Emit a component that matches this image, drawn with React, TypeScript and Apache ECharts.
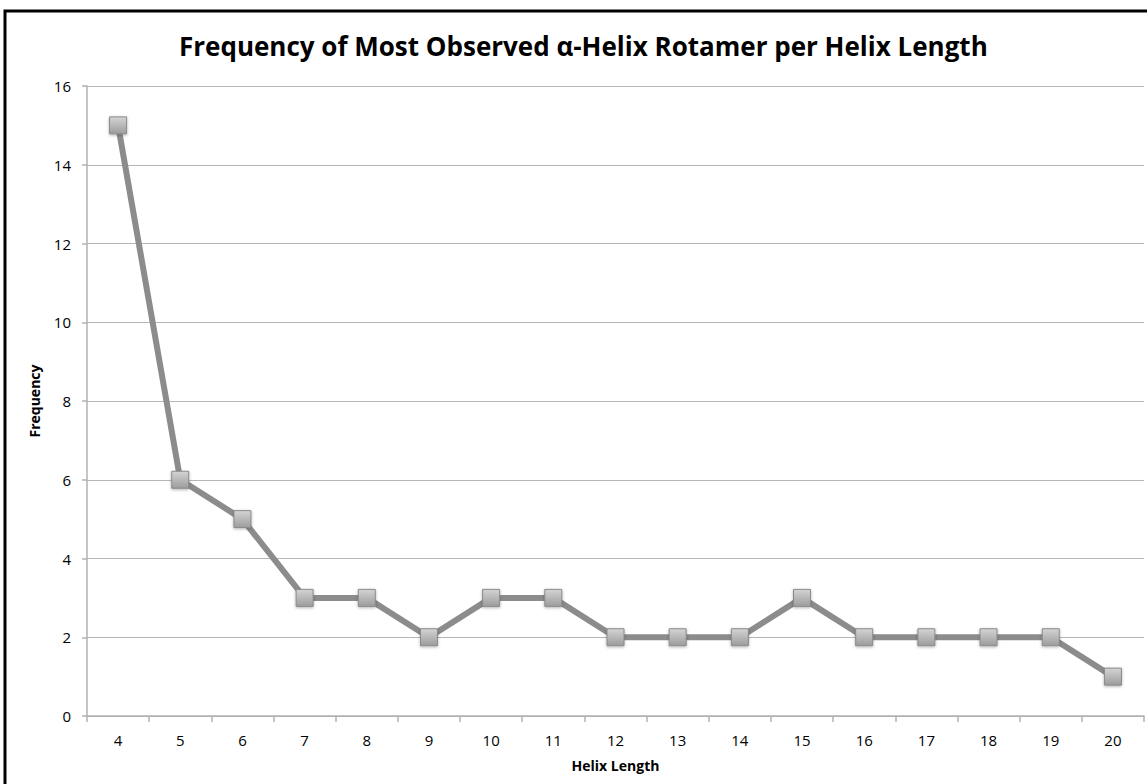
import React, { useEffect, useRef } from "react";
import * as echarts from "echarts";

const helixLengths = ["4", "5", "6", "7", "8", "9", "10", "11", "12", "13", "14", "15", "16", "17", "18", "19", "20"];
const frequencies = [15, 6, 5, 3, 3, 2, 3, 3, 2, 2, 2, 3, 2, 2, 2, 2, 1];

const titleText = "Frequency of Most Observed \u03b1-Helix Rotamer per Helix Length";
const xAxisName = "Helix Length";
const yAxisName = "Frequency";

export default function App() {
  const ref = useRef<HTMLDivElement>(null);

  useEffect(() => {
    document.body.style.margin = "0";
    if (!ref.current) return;
    const chart = echarts.init(ref.current, null, { renderer: "svg" });
    const font = "'Open Sans', 'Noto Sans', sans-serif";
    chart.setOption({
      animation: false,
      backgroundColor: "#ffffff",
      textStyle: { fontFamily: font },
      title: {
        text: titleText,
        left: 174,
        top: 28,
        textStyle: { fontFamily: font, fontWeight: "bold", fontSize: 26, color: "#000" },
      },
      graphic: [
        {
          type: "rect",
          shape: { x: 5, y: 11, width: 1160, height: 800 },
          style: { fill: "none", stroke: "#000", lineWidth: 3 },
          silent: true,
        },
      ],
      grid: { left: 87, right: 3, top: 86, bottom: 68 },
      xAxis: {
        type: "category",
        data: helixLengths,
        boundaryGap: true,
        name: xAxisName,
        nameLocation: "middle",
        nameGap: 42,
        nameTextStyle: { fontFamily: font, fontWeight: "bold", fontSize: 14, color: "#000" },
        axisLine: { lineStyle: { color: "#b3b0b0", width: 1.5 } },
        axisTick: { show: true, length: 6, alignWithLabel: false, lineStyle: { color: "#b3b0b0", width: 1.5 } },
        axisLabel: { color: "#000", fontSize: 15, margin: 16, fontFamily: font },
        splitLine: { show: false },
      },
      yAxis: {
        type: "value",
        min: 0,
        max: 16,
        interval: 2,
        name: yAxisName,
        nameLocation: "middle",
        nameGap: 46,
        nameRotate: 90,
        nameTextStyle: { fontFamily: font, fontWeight: "bold", fontSize: 14, color: "#000" },
        axisLine: { show: true, lineStyle: { color: "#b3b0b0", width: 1.5 } },
        axisTick: { show: true, length: 5, lineStyle: { color: "#b3b0b0", width: 1.5 } },
        axisLabel: { color: "#000", fontSize: 15, margin: 16, fontFamily: font },
        splitLine: { show: true, lineStyle: { color: "#b8b5b5", width: 1 } },
      },
      series: [
        {
          type: "line",
          data: frequencies,
          symbol: "rect",
          symbolSize: 17,
          lineStyle: { color: "#8c8c8c", width: 6 },
          itemStyle: {
            color: new echarts.graphic.LinearGradient(0, 0, 0, 1, [
              { offset: 0, color: "#d4d4d4" },
              { offset: 1, color: "#9c9c9c" },
            ]),
            borderColor: "#8a8a8a",
            borderWidth: 1,
            shadowColor: "rgba(0,0,0,0.3)",
            shadowBlur: 3,
            shadowOffsetY: 1,
          },
          z: 3,
        },
      ],
    });
    return () => chart.dispose();
  }, []);

  return <div ref={ref} style={{ width: 1147, height: 784 }} />;
}
